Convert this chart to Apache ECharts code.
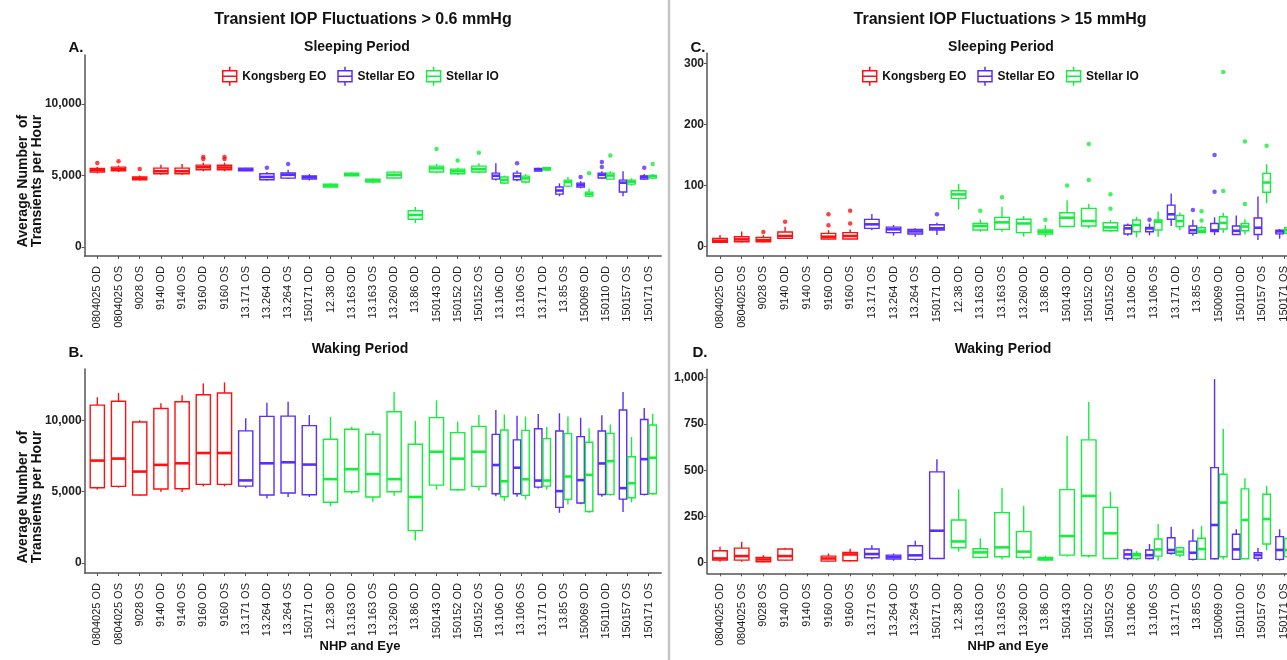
<!DOCTYPE html>
<html>
<head>
<meta charset="utf-8">
<script src="https://cdn.jsdelivr.net/npm/echarts@6/dist/echarts.min.js"></script>
<style>
  html, body { margin: 0; padding: 0; background: #fff; }
  #chart { width: 1287px; height: 660px; }
</style>
</head>
<body>
<div id="chart"></div>
<script>
const categories = [
    '0804025 OD', '0804025 OS', '9028 OS', '9140 OD', '9140 OS', '9160 OD', '9160 OS',
    '13.171 OS', '13.264 OD', '13.264 OS', '150171 OD', '12.38 OD', '13.163 OD', '13.163 OS',
    '13.260 OD', '13.86 OD', '150143 OD', '150152 OD', '150152 OS', '13.106 OD', '13.106 OS',
    '13.171 OD', '13.85 OS', '150069 OD', '150110 OD', '150157 OS', '150171 OS'
]
const groups = ['Kongsberg EO', 'Stellar EO', 'Stellar IO']
const groupColors = ['#ff1010', '#5a2dff', '#16ee3c']

// box = [eye, lower whisker, Q1, median, Q3, upper whisker]
// A. > 0.6 mmHg, sleeping
const aKongsberg = [
    ['0804025 OD', 5150, 5250, 5380, 5500, 5600], ['0804025 OS', 5250, 5330, 5450, 5590, 5700],
    ['9028 OS', 4650, 4700, 4800, 4900, 5000], ['9140 OD', 5050, 5120, 5300, 5520, 5750],
    ['9140 OS', 5050, 5120, 5300, 5520, 5800], ['9160 OD', 5300, 5400, 5580, 5730, 5900],
    ['9160 OS', 5300, 5400, 5560, 5720, 5900]
]
const aStellarEO = [
    ['13.171 OS', 5300, 5330, 5420, 5520, 5550], ['13.264 OD', 4650, 4700, 4900, 5120, 5250],
    ['13.264 OS', 4750, 4820, 5050, 5180, 5400], ['150171 OD', 4650, 4760, 4880, 4970, 5100],
    ['13.106 OD', 4650, 4750, 4980, 5170, 5850], ['13.106 OS', 4600, 4700, 4950, 5170, 5350],
    ['13.171 OD', 5300, 5320, 5420, 5500, 5550], ['13.85 OS', 3550, 3700, 3950, 4200, 4450],
    ['150069 OD', 4100, 4200, 4350, 4470, 4600], ['150110 OD', 4750, 4830, 5050, 5170, 5300],
    ['150157 OS', 3550, 3850, 4500, 4680, 5300], ['150171 OS', 4700, 4760, 4900, 4970, 5100]
]
const aStellarIO = [
    ['12.38 OD', 4150, 4200, 4300, 4400, 4450], ['13.163 OD', 4950, 4980, 5080, 5170, 5220],
    ['13.163 OS', 4450, 4540, 4650, 4750, 4800], ['13.260 OD', 4800, 4830, 5050, 5240, 5300],
    ['13.86 OD', 1680, 1940, 2240, 2540, 2800], ['150143 OD', 5150, 5250, 5500, 5660, 5800],
    ['150152 OD', 5050, 5120, 5300, 5450, 5550], ['150152 OS', 5150, 5250, 5450, 5660, 5850],
    ['13.106 OD', 4400, 4480, 4700, 4900, 5000], ['13.106 OS', 4450, 4550, 4800, 4960, 5100],
    ['13.171 OD', 5350, 5380, 5480, 5550, 5600], ['13.85 OS', 4200, 4260, 4550, 4680, 4900],
    ['150069 OD', 3500, 3560, 3700, 3840, 4100], ['150110 OD', 4700, 4750, 5000, 5170, 5300],
    ['150157 OS', 4300, 4400, 4570, 4680, 4800], ['150171 OS', 4750, 4820, 4950, 5000, 5100]
]
const aKongsbergOut = [['0804025 OD', 5880], ['0804025 OS', 6000], ['9028 OS', 5450], ['9160 OD', 6300],
    ['9160 OD', 6150], ['9160 OS', 6300], ['9160 OS', 6150]]
const aStellarEOOut = [['13.264 OD', 5550], ['13.264 OS', 5800], ['13.106 OS', 5850], ['150069 OD', 4900],
    ['150110 OD', 5950], ['150110 OD', 5600], ['150171 OS', 5550]]
const aStellarIOOut = [['150143 OD', 6850], ['150152 OD', 6050], ['150152 OS', 6600], ['150069 OD', 5150],
    ['150110 OD', 6400], ['150171 OS', 5800]]

// B. > 0.6 mmHg, waking
const bKongsberg = [
    ['0804025 OD', 5140, 5280, 7180, 11070, 11620], ['0804025 OS', 5280, 5370, 7320, 11340, 11920],
    ['9028 OS', 4720, 4770, 6410, 9890, 10000], ['9140 OD', 5000, 5190, 6880, 10830, 11200],
    ['9140 OS', 4980, 5210, 6990, 11300, 11760], ['9160 OD', 5370, 5510, 7710, 11800, 12590],
    ['9160 OS', 5370, 5510, 7710, 11920, 12660]
]
const bStellarEO = [
    ['13.171 OS', 5280, 5390, 5790, 9260, 10140], ['13.264 OD', 4540, 4770, 6990, 10280, 11230],
    ['13.264 OS', 4630, 4910, 7060, 10300, 11300], ['150171 OD', 4630, 4790, 6900, 9630, 10370],
    ['13.106 OD', 4680, 4860, 6870, 9020, 10730], ['13.106 OS', 4650, 4860, 6680, 8630, 10330],
    ['13.171 OD', 5230, 5320, 5780, 9410, 10440], ['13.85 OS', 3520, 3900, 5040, 9250, 10500],
    ['150069 OD', 4120, 4210, 5810, 8860, 10180], ['150110 OD', 4650, 4800, 6980, 9250, 10360],
    ['150157 OS', 3580, 4480, 5250, 10730, 11980], ['150171 OS', 4730, 4810, 7280, 10060, 10870]
]
const bStellarIO = [
    ['12.38 OD', 3980, 4260, 5880, 8680, 10230], ['13.163 OD', 4860, 5000, 6575, 9375, 9560],
    ['13.163 OS', 4300, 4630, 6230, 9030, 9260], ['13.260 OD', 4720, 5000, 5880, 10600, 11990],
    ['13.86 OD', 1570, 2270, 4630, 8330, 9950], ['150143 OD', 5140, 5460, 7800, 10190, 11410],
    ['150152 OD', 5050, 5140, 7315, 9140, 9910], ['150152 OS', 5090, 5370, 7800, 9580, 10370],
    ['13.106 OD', 4340, 4640, 5730, 9320, 10410], ['13.106 OS', 4460, 4740, 5870, 9300, 10270],
    ['13.171 OD', 5160, 5390, 5780, 8720, 9530], ['13.85 OS', 4110, 4460, 6060, 9070, 10270],
    ['150069 OD', 3520, 3610, 6180, 8470, 9440], ['150110 OD', 4720, 4810, 7140, 9090, 9710],
    ['150157 OS', 4250, 4580, 5590, 7450, 8830], ['150171 OS', 4810, 4860, 7380, 9670, 10450]
]

// C. > 15 mmHg, sleeping
const cKongsberg = [
    ['0804025 OD', 6.5, 7.1, 9.8, 13.6, 19], ['0804025 OS', 7, 8.2, 12, 16.4, 25],
    ['9028 OS', 7, 8.2, 10.9, 15.3, 19], ['9140 OD', 12.5, 13.6, 17.5, 24, 32.7],
    ['9160 OD', 12, 12.5, 16.4, 21.8, 27], ['9160 OS', 12, 12.5, 17.5, 23, 28]
]
const cStellarEO = [
    ['13.171 OS', 27, 30, 36.6, 44.7, 53.5], ['13.264 OD', 18, 23, 28.4, 32, 35.5],
    ['13.264 OS', 16.4, 20.7, 25, 28.4, 30], ['150171 OD', 19, 27.3, 30, 36, 39.3],
    ['13.106 OD', 18, 20.7, 30, 35, 38], ['13.106 OS', 18.5, 24.5, 30, 31.6, 38],
    ['13.171 OD', 34, 45, 53, 68, 87], ['13.85 OS', 18, 22, 27, 34, 44],
    ['150069 OD', 19, 25, 27, 38, 48], ['150110 OD', 19, 20, 26, 34, 51],
    ['150157 OS', 11, 20, 31, 47, 82], ['150171 OS', 13, 21, 25, 27, 29]
]
const cStellarIO = [
    ['12.38 OD', 61, 79, 85.6, 91.6, 102.6], ['13.163 OD', 24.5, 27.3, 33.8, 38, 44.7],
    ['13.163 OS', 24.5, 28.4, 39.8, 48, 65.5], ['13.260 OD', 16.4, 23, 38, 45, 50],
    ['13.86 OD', 16.4, 20.7, 24.5, 27.3, 35.5], ['150143 OD', 31.6, 33, 47.5, 55.6, 76],
    ['150152 OD', 30, 33.8, 42, 62.7, 70], ['150152 OS', 24.5, 26, 31.6, 39.3, 43.6],
    ['13.106 OD', 15.3, 24.5, 35.5, 43.6, 49], ['13.106 OS', 16.4, 27.3, 41, 43.6, 57.8],
    ['13.171 OD', 27, 33, 42, 51, 56], ['13.85 OS', 22, 23, 26, 31, 34],
    ['150069 OD', 23, 29, 39, 49, 55], ['150110 OD', 20, 26, 33, 38, 45],
    ['150157 OS', 71, 89, 105, 120, 135], ['150171 OS', 16, 22, 27, 31, 36]
]
const cKongsbergOut = [['9028 OS', 24], ['9140 OD', 41], ['9160 OD', 35], ['9160 OD', 53],
    ['9160 OS', 38], ['9160 OS', 59]]
const cStellarEOOut = [['150171 OD', 53], ['13.106 OS', 44], ['13.85 OS', 60], ['150069 OD', 90],
    ['150069 OD', 150]]
const cStellarIOOut = [['13.163 OD', 59], ['13.163 OS', 81], ['13.86 OD', 44], ['150143 OD', 100],
    ['150152 OD', 109], ['150152 OD', 168], ['150152 OS', 62], ['150152 OS', 86], ['13.85 OS', 58],
    ['13.85 OS', 43], ['150069 OD', 91], ['150069 OD', 286], ['150110 OD', 70], ['150110 OD', 172],
    ['150157 OS', 165]]

// D. > 15 mmHg, waking
const dKongsberg = [
    ['0804025 OD', 5, 14, 23, 65, 87], ['0804025 OS', 5, 14, 36, 79, 114],
    ['9028 OS', 2, 5, 18, 29, 41], ['9140 OD', 11, 14, 36, 74, 81],
    ['9160 OD', 5, 9, 23, 36, 50], ['9160 OS', 7, 11, 45, 56, 76]
]
const dStellarEO = [
    ['13.171 OS', 18, 27, 47, 74, 94], ['13.264 OD', 11, 20, 31, 41, 50],
    ['13.264 OS', 11, 18, 40, 92, 119], ['150171 OD', 23, 23, 173, 491, 559],
    ['13.106 OD', 14, 23, 45, 69, 76], ['13.106 OS', 18, 23, 41, 69, 101],
    ['13.171 OD', 43, 51, 69, 135, 195], ['13.85 OS', 12, 18, 54, 117, 181],
    ['150069 OD', 18, 22, 204, 514, 992], ['150110 OD', 18, 18, 72, 154, 181],
    ['150157 OS', 8, 24, 41, 54, 80], ['150171 OS', 11, 18, 69, 141, 181]
]
const dStellarIO = [
    ['12.38 OD', 60, 81, 115, 231, 397], ['13.163 OD', 23, 29, 56, 76, 132],
    ['13.163 OS', 18, 32, 83, 271, 404], ['13.260 OD', 18, 29, 60, 168, 307],
    ['13.86 OD', 11, 14, 22, 29, 38], ['150143 OD', 32, 41, 144, 395, 686],
    ['150152 OD', 29, 38, 361, 664, 868], ['150152 OS', 23, 23, 159, 299, 384],
    ['13.106 OD', 14, 23, 41, 50, 63], ['13.106 OS', 11, 36, 72, 128, 209],
    ['13.171 OD', 30, 42, 60, 81, 86], ['13.85 OS', 18, 18, 74, 132, 199],
    ['150069 OD', 18, 32, 325, 478, 722], ['150110 OD', 22, 22, 231, 399, 457],
    ['150157 OS', 69, 101, 236, 370, 415], ['150171 OS', 20, 33, 69, 131, 163]
]

const ticks600 = [0, 5000, 10000]
const ticksSleep15 = [0, 100, 200, 300]
const ticksWake15 = [0, 250, 500, 750, 1000]

const panels = [
    { boxes: [aKongsberg, aStellarEO, aStellarIO], out: [aKongsbergOut, aStellarEOOut, aStellarIOOut], ticks: ticks600,
      left: 84.6, top: 55, width: 576.6, height: 201, min: -630, max: 13430 },
    { boxes: [bKongsberg, bStellarEO, bStellarIO], out: [[], [], []], ticks: ticks600,
      left: 84.6, top: 369, width: 576.6, height: 204, min: -700, max: 13600 },
    { boxes: [cKongsberg, cStellarEO, cStellarIO], out: [cKongsbergOut, cStellarEOOut, cStellarIOOut], ticks: ticksSleep15,
      left: 707, top: 53.3, width: 590, height: 202.7, min: -15.2, max: 316.4 },
    { boxes: [dKongsberg, dStellarEO, dStellarIO], out: [[], [], []], ticks: ticksWake15,
      left: 707, top: 369.3, width: 590, height: 204, min: -57, max: 1045 }
]

const font = 'Liberation Sans, Arial, sans-serif'
const axisColor = '#555'
const catPositions = categories.map((c, i) => i + 1)

// side-by-side placement when two devices share one eye
function dodger(boxLists) {
    const present = {}
    boxLists.forEach((list, g) => list.forEach(b => {
        (present[b[0]] = present[b[0]] || []).push(g)
    }))
    return (name, g) => {
        const gs = present[name] || [g]
        if (gs.length < 2) return { off: 0, w: 0.67 }
        return { off: gs.indexOf(g) === 0 ? -0.2 : 0.2, w: 0.35 }
    }
}

function boxRenderer(color) {
    return function (params, api) {
        const x = api.value(0) + api.value(6)
        const half = api.size([api.value(7), 0])[0] / 2
        const cx = api.coord([x, 0])[0]
        const y = i => api.coord([x, api.value(i)])[1]
        const lo = y(1), q1 = y(2), med = y(3), q3 = y(4), hi = y(5)
        const line = (x1, y1, x2, y2, lw) => ({
            type: 'line', shape: { x1, y1, x2, y2 }, style: { stroke: color, lineWidth: lw }
        })
        return {
            type: 'group',
            children: [
                line(cx, hi, cx, q3, 1.4),
                line(cx, q1, cx, lo, 1.4),
                { type: 'rect', shape: { x: cx - half, y: q3, width: half * 2, height: q1 - q3 },
                  style: { fill: 'rgba(255,255,255,0)', stroke: color, lineWidth: 1.4 } },
                line(cx - half, med, cx + half, med, 2.6)
            ]
        }
    }
}

const grid = [], xAxis = [], yAxis = [], series = []
panels.forEach((p, pi) => {
    grid.push({ left: p.left, top: p.top, width: p.width, height: p.height, outerBoundsMode: 'none' })
    xAxis.push({
        gridIndex: pi, type: 'value', min: 0.4, max: 27.6,
        axisLine: { show: true, onZero: false, lineStyle: { color: axisColor, width: 1.5 } },
        axisTick: { show: true, customValues: catPositions, length: 3, lineStyle: { color: axisColor } },
        axisLabel: {
            customValues: catPositions, rotate: 90, margin: 10, fontSize: 11, color: '#1a1a1a',
            fontFamily: font, formatter: v => categories[Math.round(v) - 1]
        },
        splitLine: { show: false }
    })
    yAxis.push({
        gridIndex: pi, type: 'value', min: p.min, max: p.max,
        axisLine: { show: true, lineStyle: { color: axisColor, width: 1.5 } },
        axisTick: { show: true, customValues: p.ticks, length: 3, lineStyle: { color: axisColor } },
        axisLabel: {
            customValues: p.ticks, margin: 3, fontSize: 12, fontWeight: 'bold', color: '#222',
            fontFamily: font, formatter: v => v.toLocaleString('en-US')
        },
        splitLine: { show: false }
    })
    const place = dodger(p.boxes)
    groups.forEach((name, g) => {
        const color = groupColors[g]
        series.push({
            type: 'custom', name, xAxisIndex: pi, yAxisIndex: pi,
            itemStyle: { color: 'rgba(0,0,0,0)', borderColor: color, borderWidth: 1.5 },
            encode: { x: 0, y: [1, 2, 3, 4, 5] },
            renderItem: boxRenderer(color),
            data: p.boxes[g].map(b => {
                const d = place(b[0], g)
                return [categories.indexOf(b[0]) + 1, b[1], b[2], b[3], b[4], b[5], d.off, d.w]
            })
        })
        if (p.out[g].length) {
            series.push({
                type: 'scatter', name, xAxisIndex: pi, yAxisIndex: pi,
                symbolSize: 4.5, itemStyle: { color },
                data: p.out[g].map(o => [categories.indexOf(o[0]) + 1 + place(o[0], g).off, o[1]])
            })
        }
    })
})

const boxIcon = 'path://M7,0L7,4M0,4L14,4L14,15L0,15ZM0,9.5L14,9.5M7,15L7,19'
const legendData = groups.map((name, g) => ({
    name, icon: boxIcon,
    itemStyle: { color: 'rgba(0,0,0,0)', borderColor: groupColors[g], borderWidth: 1.5 }
}))
const legendBase = {
    top: 61, itemWidth: 15, itemHeight: 19, itemGap: 11, data: legendData,
    textStyle: { fontSize: 12, fontWeight: 'bold', color: '#111', fontFamily: font }
}

const labels = [
    ['Transient IOP Fluctuations > 0.6 mmHg', 363, 20, 16],
    ['Transient IOP Fluctuations > 15 mmHg', 1000, 20, 16],
    ['Sleeping Period', 357, 47, 14], ['Sleeping Period', 1001, 47, 14],
    ['Waking Period', 360, 349, 14], ['Waking Period', 1003, 349, 14],
    ['NHP and Eye', 360, 646, 13], ['NHP and Eye', 1008, 646, 13],
    ['A.', 76, 48, 15], ['B.', 76, 353, 15], ['C.', 698, 48, 15], ['D.', 700, 353, 15]
]
const graphic = labels.map(t => ({
    type: 'text', x: t[1], y: t[2],
    style: { text: t[0], font: `bold ${t[3]}px ${font}`, fill: '#111', align: 'center', verticalAlign: 'middle' }
}))
;[181, 497].forEach(cy => graphic.push({
    type: 'text', x: 30, y: cy, rotation: Math.PI / 2,
    style: {
        text: 'Average Number  of\nTransients per Hour', font: `bold 14px ${font}`, lineHeight: 14,
        fill: '#111', align: 'center', verticalAlign: 'middle'
    }
}))
graphic.push({
    type: 'line', shape: { x1: 669, y1: 0, x2: 669, y2: 660 },
    style: { stroke: '#c4c4c4', lineWidth: 2.5 }
})

const chart = echarts.init(document.getElementById('chart'))
chart.setOption({
    animation: false,
    backgroundColor: '#fff',
    textStyle: { fontFamily: font },
    grid, xAxis, yAxis, series, graphic,
    legend: [Object.assign({ left: 217 }, legendBase), Object.assign({ left: 857 }, legendBase)]
})
</script>
</body>
</html>
